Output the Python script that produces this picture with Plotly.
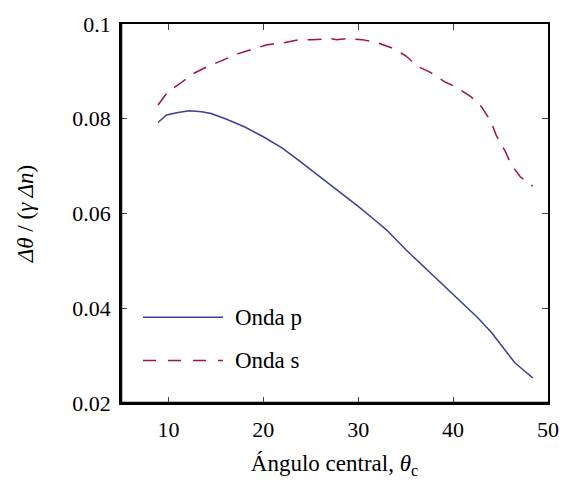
import plotly.graph_objects as go

# Data
p_x = [8.9, 9.8, 11.0, 12.2, 13.5, 14.5, 16.0, 18.0, 20.0, 22.0, 23.8, 26.0, 28.0, 30.0, 32.0, 33.0, 35.0, 37.0, 39.0, 40.0, 41.5, 42.6, 44.0, 45.5, 46.5, 47.5, 48.4]
p_y = [0.0792, 0.0808, 0.0813, 0.0817, 0.0815, 0.0811, 0.0800, 0.0783, 0.0762, 0.0738, 0.0711, 0.0677, 0.0646, 0.0615, 0.0582, 0.0565, 0.0524, 0.0486, 0.0449, 0.0429, 0.0401, 0.0380, 0.0350, 0.0311, 0.0285, 0.0268, 0.0253]
s_x = [8.9, 9.9, 11.4, 12.5, 14.1, 15.6, 17.3, 18.7, 20.4, 22.0, 23.8, 25.1, 27.2, 27.7, 28.7, 30.4, 31.8, 33.5, 35.0, 36.3, 37.6, 39.2, 40.3, 41.9, 43.0, 44.0, 44.5, 45.5, 46.1, 47.1, 48.4]
s_y = [0.0829, 0.0856, 0.0877, 0.0894, 0.0910, 0.0923, 0.0937, 0.0946, 0.0956, 0.0960, 0.0967, 0.0967, 0.0969, 0.0967, 0.0969, 0.0967, 0.0962, 0.0950, 0.0933, 0.0910, 0.0898, 0.0877, 0.0867, 0.0846, 0.0825, 0.0794, 0.0767, 0.0731, 0.0704, 0.0677, 0.0658]
x_ticks = [10, 20, 30, 40, 50]
y_ticks = [0.02, 0.04, 0.06, 0.08, 0.1]
legend_labels = ["Onda p", "Onda s"]

BLUE = "#3a3f9e"
RED = "#a50d4b"
FONT = "Liberation Serif"

fig = go.Figure()
fig.add_trace(go.Scatter(x=p_x, y=p_y, mode="lines", line=dict(color=BLUE, width=1.5), showlegend=False))
fig.add_trace(go.Scatter(x=s_x, y=s_y, mode="lines", line=dict(color=RED, width=1.5, dash="14px,10px"), showlegend=False))

# manual legend
for i, (lab, col, dash) in enumerate([(legend_labels[0], BLUE, "solid"), (legend_labels[1], RED, "13px,12px")]):
    yy = 0.226 - i * 0.114
    fig.add_shape(type="line", xref="paper", yref="paper", x0=0.0515, x1=0.239, y0=yy, y1=yy,
                  line=dict(color=col, width=1.5, dash=dash))
    fig.add_annotation(xref="paper", yref="paper", x=0.262, y=yy, text=lab, showarrow=False,
                       xanchor="left", yanchor="middle", font=dict(family=FONT, size=23, color="black"))

# thicker left/bottom spines
fig.add_shape(type="line", xref="paper", yref="paper", x0=0, x1=0, y0=0, y1=1, line=dict(color="black", width=2.5))
fig.add_shape(type="line", xref="paper", yref="paper", x0=0, x1=1, y0=0, y1=0, line=dict(color="black", width=2.5))

fig.update_layout(
    width=572, height=491,
    margin=dict(l=121, r=24, t=18, b=88),
    paper_bgcolor="white", plot_bgcolor="white",
    font=dict(family=FONT, size=22, color="black"),
    xaxis=dict(range=[5, 50], tickvals=x_ticks, ticks="inside", ticklen=6, tickwidth=1.2,
               showline=True, linecolor="black", linewidth=1.5, mirror="ticks",
               showgrid=False, zeroline=False, tickfont=dict(size=22), ticklabelstandoff=6,
               title=dict(text="Ángulo central, <i>θ</i><sub>c</sub>", font=dict(size=23), standoff=14)),
    yaxis=dict(range=[0.02, 0.1], tickvals=y_ticks, ticks="inside", ticklen=6, tickwidth=1.2,
               showline=True, linecolor="black", linewidth=1.5, mirror="ticks",
               showgrid=False, zeroline=False, tickfont=dict(size=22), ticklabelstandoff=4,
               title=dict(text="<i>Δθ</i> / (<i>γ Δn</i>)", font=dict(size=23), standoff=32)),
)

fig.write_html("out.html")
